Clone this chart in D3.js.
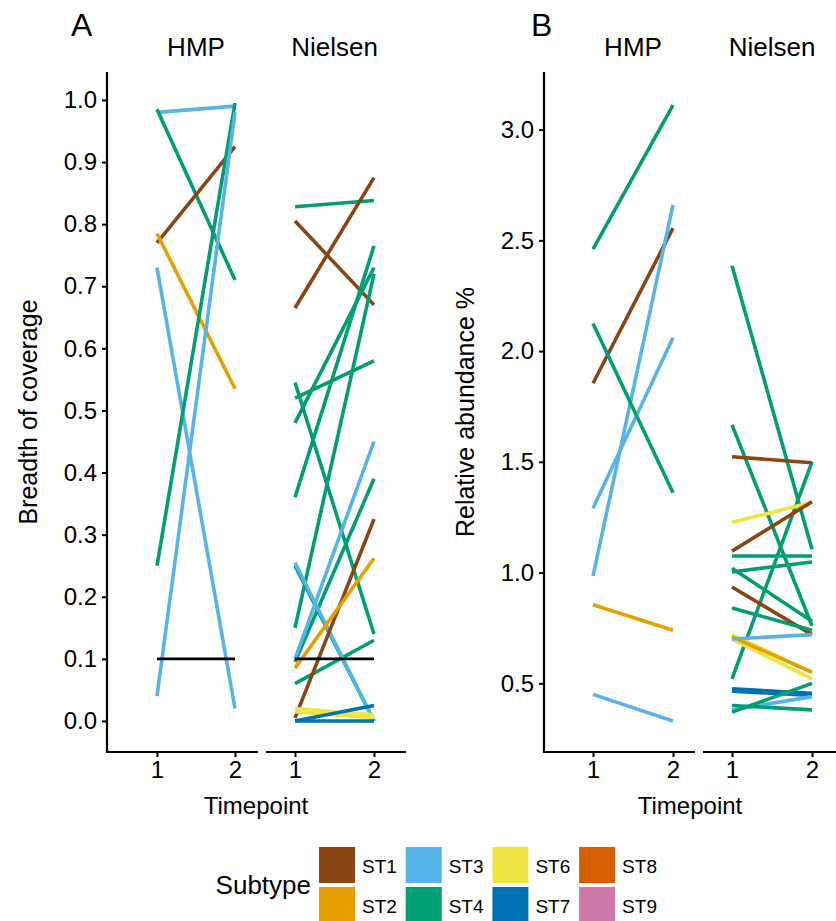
<!DOCTYPE html>
<html>
<head>
<meta charset="utf-8">
<script src="https://cdn.jsdelivr.net/npm/d3@7"></script>
<style>
  body { margin: 0; background: #fff; }
  text { font-family: "Liberation Sans", Arial, sans-serif; fill: #000; }
</style>
</head>
<body>
<div id="chart"></div>
<script>
// subtype palette
const subtypes = ["ST1", "ST2", "ST3", "ST4", "ST6", "ST7", "ST8", "ST9"];
const subtypeColors = ["#8B4513", "#E69F00", "#56B4E9", "#009E73", "#F0E442", "#0072B2", "#D55E00", "#CC79A7"];

const timepoints = [1, 2];
const cohorts = ["HMP", "Nielsen"];

// A: breadth of coverage, [subtype, timepoint 1, timepoint 2]
const coverageHMP = [
  ["ST3", 0.98, 0.99],
  ["ST4", 0.985, 0.71],
  ["ST1", 0.77, 0.925],
  ["ST2", 0.785, 0.535],
  ["ST3", 0.73, 0.02],
  ["ST4", 0.25, 0.995],
  ["ST3", 0.04, 0.98]
];
const coverageNielsen = [
  ["ST4", 0.828, 0.838],
  ["ST1", 0.805, 0.67],
  ["ST1", 0.665, 0.875],
  ["ST4", 0.52, 0.58],
  ["ST4", 0.545, 0.14],
  ["ST4", 0.36, 0.765],
  ["ST4", 0.48, 0.73],
  ["ST4", 0.15, 0.72],
  ["ST4", 0.25, 0.0],
  ["ST4", 0.095, 0.39],
  ["ST4", 0.06, 0.13],
  ["ST3", 0.255, 0.0],
  ["ST3", 0.1, 0.45],
  ["ST1", 0.005, 0.325],
  ["ST2", 0.085, 0.262],
  ["ST6", 0.02, 0.01],
  ["ST6", 0.015, 0.005],
  ["ST7", 0.0, 0.0],
  ["ST7", 0.0, 0.025]
];
const coverageCutoff = 0.1;

// B: relative abundance %
const abundanceHMP = [
  ["ST4", 2.46, 3.11],
  ["ST1", 1.855, 2.555],
  ["ST3", 0.985, 2.66],
  ["ST3", 1.29, 2.06],
  ["ST4", 2.125, 1.36],
  ["ST2", 0.855, 0.74],
  ["ST3", 0.45, 0.33]
];
const abundanceNielsen = [
  ["ST4", 2.385, 1.105],
  ["ST4", 1.667, 0.76],
  ["ST4", 0.52, 1.5],
  ["ST1", 1.523, 1.496],
  ["ST6", 1.227, 1.317],
  ["ST1", 1.097, 1.32],
  ["ST4", 1.075, 1.075],
  ["ST4", 1.003, 1.048],
  ["ST4", 1.02, 0.78],
  ["ST1", 0.935, 0.72],
  ["ST4", 0.84, 0.74],
  ["ST6", 0.72, 0.55],
  ["ST6", 0.7, 0.52],
  ["ST2", 0.71, 0.55],
  ["ST3", 0.7, 0.72],
  ["ST7", 0.475, 0.455],
  ["ST7", 0.465, 0.445],
  ["ST3", 0.38, 0.44],
  ["ST4", 0.4, 0.38],
  ["ST4", 0.37, 0.5]
];

const coverageTicks = [0, 0.1, 0.2, 0.3, 0.4, 0.5, 0.6, 0.7, 0.8, 0.9, 1.0];
const abundanceTicks = [0.5, 1.0, 1.5, 2.0, 2.5, 3.0];

const W = 836, H = 921;
const svg = d3.select("#chart").append("svg")
  .attr("width", W).attr("height", H);

const colorOf = d3.scaleOrdinal().domain(subtypes).range(subtypeColors);
const panelTop = 72, panelBottom = 752;
const tickFont = 24;

function drawPanel(opts) {
  const y = d3.scaleLinear().domain(opts.yDomain).range([panelBottom, panelTop]);
  const g = svg.append("g");

  // y axis
  const yAxis = d3.axisLeft(y).tickValues(opts.yTicks).tickSize(5).tickPadding(5)
    .tickFormat(d3.format(".1f"));
  const ya = g.append("g").attr("transform", "translate(" + opts.left + ",0)").call(yAxis);
  ya.select(".domain").remove();
  ya.append("line").attr("x1", 0).attr("x2", 0).attr("y1", panelTop).attr("y2", panelBottom + 1)
    .attr("stroke", "#000").attr("stroke-width", 2.2);
  ya.selectAll(".tick line").attr("stroke", "#000").attr("stroke-width", 2);
  ya.selectAll(".tick text").attr("font-size", tickFont).attr("fill", "#1a1a1a")
    .style("font-family", null);

  opts.facets.forEach(function(f, i) {
    const x = d3.scaleLinear().domain(timepoints).range([f.x1, f.x2]);
    const xAxis = d3.axisBottom(x).tickValues(timepoints).tickSize(5).tickPadding(4)
      .tickFormat(d3.format("d"));
    const xa = g.append("g").attr("transform", "translate(0," + panelBottom + ")").call(xAxis);
    xa.select(".domain").remove();
    xa.append("line").attr("x1", f.left).attr("x2", f.right).attr("y1", 0).attr("y2", 0)
      .attr("stroke", "#000").attr("stroke-width", 2.2);
    xa.selectAll(".tick line").attr("stroke", "#000").attr("stroke-width", 2);
    xa.selectAll(".tick text").attr("font-size", tickFont).attr("fill", "#1a1a1a")
      .style("font-family", null);

    // strip label
    g.append("text").attr("x", (f.x1 + f.x2) / 2).attr("y", 56)
      .attr("text-anchor", "middle").attr("font-size", 26).text(cohorts[i]);

    // paired lines
    g.append("g").selectAll("line").data(f.data).enter().append("line")
      .attr("x1", x(1)).attr("x2", x(2))
      .attr("y1", function(d) { return y(d[1]); })
      .attr("y2", function(d) { return y(d[2]); })
      .attr("stroke", function(d) { return colorOf(d[0]); })
      .attr("stroke-width", 3.6);

    if (opts.cutoff !== undefined) {
      g.append("line").attr("x1", x(1)).attr("x2", x(2))
        .attr("y1", y(opts.cutoff)).attr("y2", y(opts.cutoff))
        .attr("stroke", "#000").attr("stroke-width", 2.6);
    }
  });

  // axis titles
  g.append("text").attr("transform", "translate(" + opts.titleX + "," + (panelTop + panelBottom) / 2 + ") rotate(-90)")
    .attr("text-anchor", "middle").attr("font-size", 25).text(opts.yTitle);
  g.append("text").attr("x", opts.timeX).attr("y", 814)
    .attr("text-anchor", "middle").attr("font-size", 24).text("Timepoint");
  g.append("text").attr("x", opts.tagX).attr("y", 36).attr("font-size", 32).text(opts.tag);
}

drawPanel({
  tag: "A", tagX: 71, left: 107, titleX: 37,
  yDomain: [-0.05, 1.045], yTicks: coverageTicks, yTitle: "Breadth of coverage",
  cutoff: coverageCutoff, timeX: 256,
  facets: [
    { left: 107, right: 258, x1: 157, x2: 235, data: coverageHMP },
    { left: 266, right: 406, x1: 295, x2: 374, data: coverageNielsen }
  ]
});

drawPanel({
  tag: "B", tagX: 531, left: 544, titleX: 474,
  yDomain: [0.19, 3.26], yTicks: abundanceTicks, yTitle: "Relative abundance %",
  timeX: 690,
  facets: [
    { left: 544, right: 695, x1: 593, x2: 673, data: abundanceHMP },
    { left: 703, right: 836, x1: 732, x2: 812, data: abundanceNielsen }
  ]
});

// legend
const legend = svg.append("g").attr("transform", "translate(319,847)");
legend.append("text").attr("x", -8).attr("y", 47).attr("text-anchor", "end")
  .attr("font-size", 26).text("Subtype");
const item = legend.selectAll("g.item").data(subtypes).enter().append("g")
  .attr("class", "item")
  .attr("transform", function(d, i) {
    return "translate(" + (Math.floor(i / 2) * 86.7) + "," + ((i % 2) * 40) + ")";
  });
item.append("rect").attr("width", 36).attr("height", 36)
  .attr("fill", function(d) { return colorOf(d); });
item.append("text").attr("x", 43).attr("y", 26).attr("font-size", 19).text(function(d) { return d; });
</script>
</body>
</html>
